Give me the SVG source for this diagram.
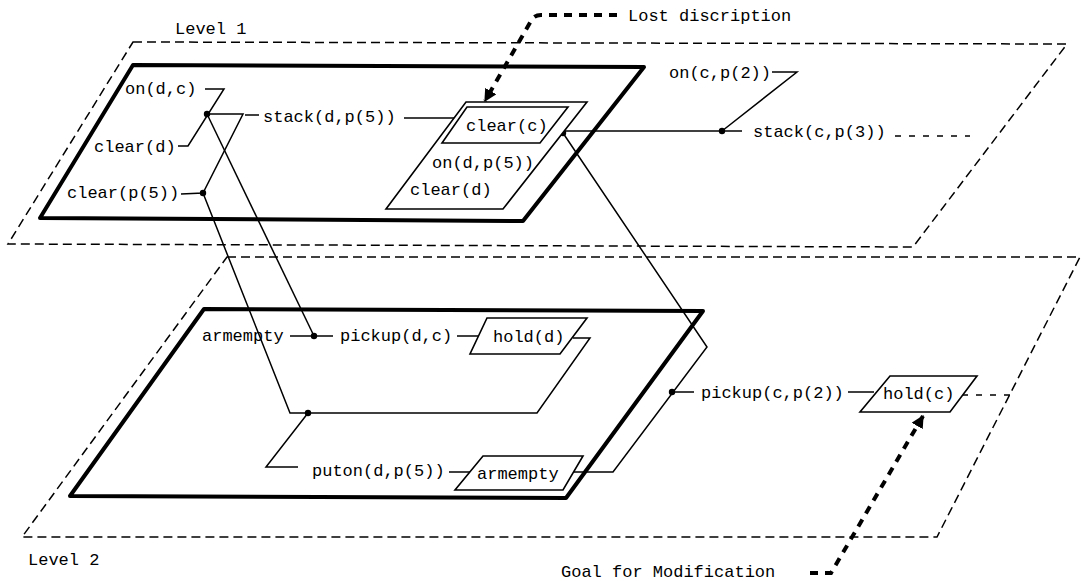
<svg xmlns="http://www.w3.org/2000/svg" width="1083" height="581" viewBox="0 0 1083 581">
<style>
text{font-family:"Liberation Mono","DejaVu Sans Mono",monospace;font-size:17px;fill:#000}
.plane{fill:none;stroke:#000;stroke-width:1.5;stroke-dasharray:9 5}
.thick{fill:none;stroke:#000;stroke-width:4;stroke-linejoin:round}
.box{fill:#fff;stroke:#000;stroke-width:1.6}
.ln{fill:none;stroke:#000;stroke-width:1.5}
.dl{fill:none;stroke:#000;stroke-width:1.5;stroke-dasharray:6 8}
.bold{fill:none;stroke:#000;stroke-width:4;stroke-dasharray:8 7}
.dot{fill:#000}
</style>
<defs>
<marker id="ah" viewBox="0 0 10 10" refX="9" refY="5" markerWidth="3.2" markerHeight="3.2" orient="auto" markerUnits="strokeWidth">
<path d="M0,0 L10,5 L0,10 z" fill="#000"/>
</marker>
</defs>
<rect width="1083" height="581" fill="#fff"/>

<g id="level1">
<polygon class="plane" points="133,42 1067,44 913,247 8,244"/>
<text x="175" y="34">Level 1</text>
</g>
<g id="level2">
<polygon class="plane" points="227,257 1080,257 937,537 22,537"/>
<text x="28" y="565">Level 2</text>
</g>

<g id="plan1">
<polygon class="thick" points="133,65 644,67 523,221 40,218"/>
</g>
<g id="plan2">
<polygon class="thick" points="204,309 703,311 566,498 70,496"/>
</g>

<g id="connectors">
<!-- level 1 -->
<polyline class="ln" points="205,89 224,89 188,146 178,146"/>
<polyline class="ln" points="207,114 243,114 203,193 181,194"/>
<line class="ln" x1="245" y1="115" x2="259" y2="115"/>
<line class="ln" x1="404" y1="118" x2="454" y2="118"/>
<polyline class="ln" points="563,131 742,131"/>
<polyline class="ln" points="772,72 797,72 722,131"/>
<line class="dl" x1="895" y1="136" x2="970" y2="136"/>
<!-- between levels -->
<line class="ln" x1="207" y1="114" x2="314" y2="336"/>
<polyline class="ln" points="203,193 290,413 537,413 590,338 573,338"/>
<polyline class="ln" points="563,133 707,347 613,472 568,472"/>
<!-- level 2 -->
<line class="ln" x1="290" y1="336" x2="333" y2="336"/>
<line class="ln" x1="457" y1="336" x2="483" y2="336"/>
<polyline class="ln" points="308,413 266,467 298,467"/>
<line class="ln" x1="449" y1="472" x2="472" y2="472"/>
<line class="ln" x1="672" y1="392" x2="694" y2="392"/>
<line class="ln" x1="848" y1="392" x2="874" y2="392"/>
<line class="dl" x1="962" y1="395" x2="1013" y2="395"/>
<circle class="dot" cx="207" cy="114" r="3.2"/>
<circle class="dot" cx="203" cy="193" r="3.2"/>
<circle class="dot" cx="563" cy="133" r="3.2"/>
<circle class="dot" cx="722" cy="131" r="3.2"/>
<circle class="dot" cx="314" cy="336" r="3.2"/>
<circle class="dot" cx="308" cy="413" r="3.2"/>
<circle class="dot" cx="672" cy="392" r="3.2"/>
<!-- annotations -->
<path class="bold" d="M617,15 L541,15 Q534,15 531,21 L485,101" marker-end="url(#ah)"/>
<path class="bold" d="M810,573 L831,573 L923,416" marker-end="url(#ah)"/>
</g>

<g id="n-ondc"><text x="125" y="94">on(d,c)</text></g>
<g id="n-cleard1"><text x="94" y="152">clear(d)</text></g>
<g id="n-clearp5"><text x="67" y="198">clear(p(5))</text></g>
<g id="n-stackd"><text x="263" y="122">stack(d,p(5))</text></g>
<g id="n-state1">
<polygon class="box" points="466,102 587,102 503,209 386,209"/>
<polygon class="box" points="467,107 568,107 540,143 442,143"/>
<text x="466" y="131">clear(c)</text>
<text x="432" y="168">on(d,p(5))</text>
<text x="410" y="195">clear(d)</text>
</g>
<g id="n-oncp2"><text x="669" y="78">on(c,p(2))</text></g>
<g id="n-stackc"><text x="753" y="137">stack(c,p(3))</text></g>
<g id="n-lost"><text x="628" y="21">Lost discription</text></g>

<g id="n-armempty1"><text x="202" y="341">armempty</text></g>
<g id="n-pickupd"><text x="340" y="341">pickup(d,c)</text></g>
<g id="n-holdd">
<polygon class="box" points="487,318 587,318 560,354 470,354"/>
<text x="493" y="342">hold(d)</text>
</g>
<g id="n-puton"><text x="312" y="476">puton(d,p(5))</text></g>
<g id="n-armempty2">
<polygon class="box" points="483,456 583,456 563,490 455,490"/>
<text x="477" y="479">armempty</text>
</g>
<g id="n-pickupc"><text x="701" y="398">pickup(c,p(2))</text></g>
<g id="n-holdc">
<polygon class="box" points="890,376 977,376 950,412 860,412"/>
<text x="883" y="399">hold(c)</text>
</g>
<g id="n-goal"><text x="561" y="577">Goal for Modification</text></g>
</svg>
